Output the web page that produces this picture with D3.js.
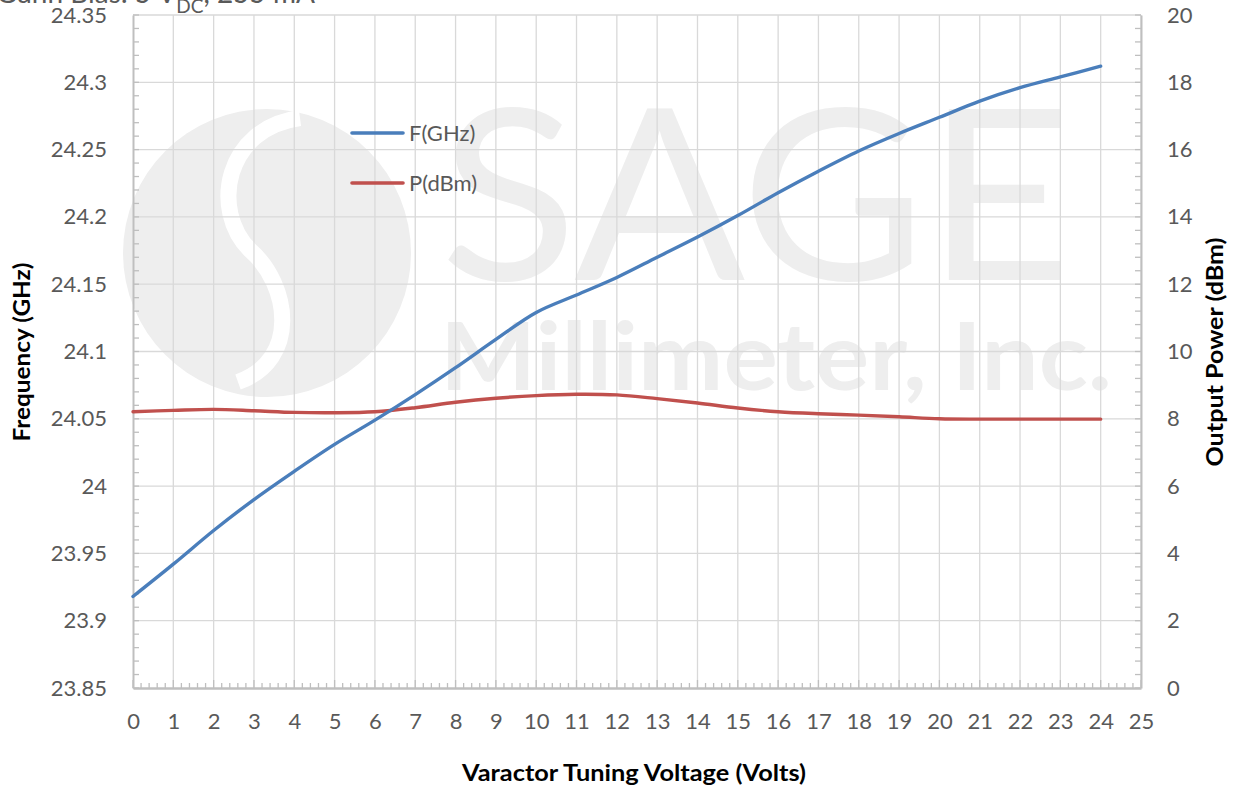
<!DOCTYPE html>
<html>
<head>
<meta charset="utf-8">
<script src="https://cdn.jsdelivr.net/npm/d3@7"></script>
<style>
  body { margin: 0; background: #fff; }
  svg { display: block; font-family: Lato, "Noto Sans", sans-serif; }
</style>
</head>
<body>
<svg width="1236" height="787"></svg>
<script>
const svg = d3.select('svg');

// data
var voltage = [0,1,2,3,4,5,6,7,8,9,10,11,12,13,14,15,16,17,18,19,20,21,22,23,24];
var freqGHz = [23.918,23.942,23.967,23.990,24.011,24.031,24.049,24.068,24.088,24.109,
               24.129,24.142,24.155,24.170,24.185,24.201,24.218,24.234,24.249,24.262,
               24.274,24.286,24.296,24.304,24.312];
var powerDbm = [8.21,8.25,8.28,8.24,8.19,8.18,8.21,8.33,8.49,8.61,
                8.69,8.73,8.71,8.60,8.47,8.32,8.21,8.15,8.11,8.06,
                8.00,7.99,7.99,7.99,7.99];
var xTicks = d3.range(0, 26, 1);
var leftTicks = [23.85,23.9,23.95,24,24.05,24.1,24.15,24.2,24.25,24.3,24.35];
var rightTicks = [0,2,4,6,8,10,12,14,16,18,20];

var pLeft = 133, pRight = 1141, pTop = 15, pBottom = 688;
var gridCol = "#d9d9d9", axisCol = "#bfbfbf", labelCol = "#595959";
var blue = "#4a7ebb", red = "#c0504d";
var tickFont = 22;

var x = d3.scaleLinear().domain([0, 25]).range([pLeft, pRight]);
var yL = d3.scaleLinear().domain([23.85, 24.35]).range([pBottom, pTop]);
var yR = d3.scaleLinear().domain([0, 20]).range([pBottom, pTop]);

// title (cut off at top of picture)
var title = svg.append("text").attr("x", -4).attr("y", 3)
    .attr("font-size", 28).attr("fill", labelCol);
title.append("tspan").text("Gunn Bias: 5 V");
title.append("tspan").attr("dy", 10).attr("font-size", 19).text("DC");
title.append("tspan").attr("dy", -10).text(", 255 mA");

// watermark
var wm = svg.append("g").attr("fill", "#eeeeee");
wm.append("circle").attr("cx", 267).attr("cy", 253).attr("r", 144);
wm.append("path")
    .attr("d", "M300,118 C225,128 210,210 250,250 C290,285 300,360 238,382")
    .attr("fill", "none").attr("stroke", "#fff").attr("stroke-width", 16);
wm.append("text").attr("x", 440).attr("y", 280)
    .attr("font-size", 238).attr("font-weight", 400)
    .attr("textLength", 632).attr("lengthAdjust", "spacingAndGlyphs").text("SAGE");
wm.append("text").attr("x", 440).attr("y", 390)
    .attr("font-size", 94).attr("font-weight", 700)
    .attr("textLength", 672).attr("lengthAdjust", "spacingAndGlyphs").text("Millimeter, Inc.");

// gridlines
var grid = svg.append("g").attr("stroke", gridCol).attr("stroke-width", 1.3);
grid.selectAll(".v").data(xTicks.slice(1)).enter().append("line")
    .attr("x1", d => x(d)).attr("x2", d => x(d)).attr("y1", pTop).attr("y2", pBottom);
grid.selectAll(".h").data(leftTicks.slice(1)).enter().append("line")
    .attr("x1", pLeft).attr("x2", pRight).attr("y1", d => yL(d)).attr("y2", d => yL(d));

// minor ticks
var minor = svg.append("g").attr("stroke", axisCol).attr("stroke-width", 1.3);
minor.selectAll(".ml").data(d3.range(0, 51)).enter().append("line")
    .attr("x1", pLeft).attr("x2", pLeft + 6)
    .attr("y1", d => yL(23.85 + d * 0.01)).attr("y2", d => yL(23.85 + d * 0.01));
minor.selectAll(".mr").data(d3.range(0, 51)).enter().append("line")
    .attr("x1", pRight - 6).attr("x2", pRight)
    .attr("y1", d => yR(d * 0.4)).attr("y2", d => yR(d * 0.4));
minor.selectAll(".mx").data(d3.range(0, 126)).enter().append("line")
    .attr("x1", d => x(d * 0.2)).attr("x2", d => x(d * 0.2))
    .attr("y1", pBottom).attr("y2", d => d % 5 == 0 ? pBottom - 8 : pBottom - 5);

// axes
var xAxis = svg.append("g").attr("transform", "translate(0," + pBottom + ")")
    .call(d3.axisBottom(x).tickValues(xTicks).tickSize(0).tickPadding(25));
var lAxis = svg.append("g").attr("transform", "translate(" + pLeft + ",0)")
    .call(d3.axisLeft(yL).tickValues(leftTicks).tickSize(0).tickPadding(26)
        .tickFormat(d => String(+d.toFixed(2))));
var rAxis = svg.append("g").attr("transform", "translate(" + pRight + ",0)")
    .call(d3.axisRight(yR).tickValues(rightTicks).tickSize(0).tickPadding(26));
[xAxis, lAxis, rAxis].forEach(function(a) {
  a.select(".domain").attr("stroke", axisCol).attr("stroke-width", 2);
  a.selectAll("text").attr("font-size", tickFont).attr("fill", labelCol)
      .attr("font-family", "Lato, 'Noto Sans', sans-serif");
});
xAxis.select(".domain").attr("stroke-width", 2.5);

// series lines
var lineF = d3.line().x((d, i) => x(voltage[i])).y(d => yL(d)).curve(d3.curveCatmullRom.alpha(0.5));
var lineP = d3.line().x((d, i) => x(voltage[i])).y(d => yR(d)).curve(d3.curveCatmullRom.alpha(0.5));
svg.append("path").datum(powerDbm).attr("d", lineP)
    .attr("fill", "none").attr("stroke", red).attr("stroke-width", 3.4).attr("stroke-linecap", "round");
svg.append("path").datum(freqGHz).attr("d", lineF)
    .attr("fill", "none").attr("stroke", blue).attr("stroke-width", 3.4).attr("stroke-linecap", "round");

// legend
var legend = [["F(GHz)", blue], ["P(dBm)", red]];
var lg = svg.append("g").selectAll("g").data(legend).enter().append("g")
    .attr("transform", (d, i) => "translate(352," + (133 + i * 50) + ")");
lg.append("line").attr("x1", 0).attr("x2", 51)
    .attr("stroke", d => d[1]).attr("stroke-width", 3.6).attr("stroke-linecap", "round");
lg.append("text").attr("x", 57).attr("y", 8).attr("font-size", tickFont)
    .attr("fill", labelCol).text(d => d[0]);

// axis titles
svg.append("text").attr("x", 634).attr("y", 781)
    .attr("text-anchor", "middle").attr("font-size", 23).attr("font-weight", 700)
    .attr("textLength", 344).attr("lengthAdjust", "spacingAndGlyphs")
    .text("Varactor Tuning Voltage (Volts)");
svg.append("text").attr("transform", "translate(30,352) rotate(-90)")
    .attr("text-anchor", "middle").attr("font-size", 23).attr("font-weight", 700)
    .attr("textLength", 179).attr("lengthAdjust", "spacingAndGlyphs")
    .text("Frequency (GHz)");
svg.append("text").attr("transform", "translate(1223,352) rotate(-90)")
    .attr("text-anchor", "middle").attr("font-size", 23).attr("font-weight", 700)
    .attr("textLength", 229).attr("lengthAdjust", "spacingAndGlyphs")
    .text("Output Power (dBm)");
</script>
</body>
</html>
